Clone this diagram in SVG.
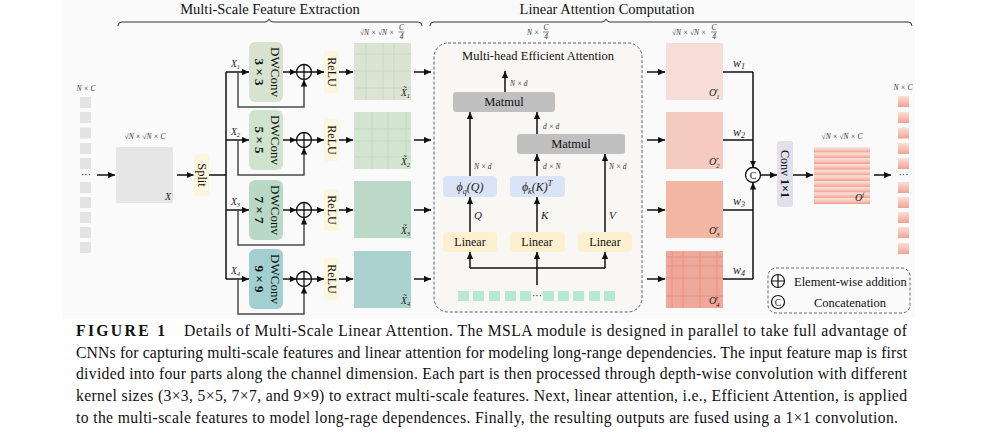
<svg xmlns="http://www.w3.org/2000/svg" width="991" height="435" viewBox="0 0 991 435">
<defs>
<style>
.t{font-family:'Liberation Serif','Times New Roman',serif;fill:#111}
.m{font-family:'Liberation Serif','DejaVu Serif',serif;font-style:italic;fill:#222}
.s{font-size:7.5px;fill:#333}
.ln{stroke:#111;stroke-width:1.5;fill:none}
.lg{stroke:#4a4a4a;stroke-width:1.5;fill:none}
.br{stroke:#333;stroke-width:1;fill:none}
.cap{font-family:'Liberation Serif','Times New Roman',serif;font-size:15.7px;fill:#111}
.grid{stroke-width:1;fill:none}
</style>
<marker id="ah" viewBox="0 0 10 10" refX="10" refY="5" markerWidth="7" markerHeight="7" markerUnits="userSpaceOnUse" orient="auto"><path d="M0,0.5 L10,5 L0,9.5 z" fill="#111"/></marker>
<linearGradient id="pk" x1="0" y1="0" x2="0" y2="1"><stop offset="0" stop-color="#fae0d8"/><stop offset="1" stop-color="#f0a391"/></linearGradient>
<linearGradient id="st" x1="0" y1="0" x2="0" y2="1"><stop offset="0" stop-color="#fbe4dc"/><stop offset="0.55" stop-color="#f6c3b6"/><stop offset="1" stop-color="#ee9b88"/></linearGradient>
</defs>

<rect x="62" y="0" width="853" height="319" fill="#fafafa"/>

<!-- titles and braces -->
<g id="titles">
<text class="t" x="270" y="14" font-size="14.5" text-anchor="middle">Multi-Scale Feature Extraction</text>
<text class="t" x="607" y="14" font-size="14.5" text-anchor="middle">Linear Attention Computation</text>
<path class="br" d="M118,26 Q118,22 122,22 L265,22 Q268,22 269,19 Q270,22 273,22 L418,22 Q422,22 422,26"/>
<path class="br" d="M430,26 Q430,22 434,22 L602,22 Q605,22 606,19 Q607,22 610,22 L908,22 Q912,22 912,26"/>
</g>

<!-- input tokens -->
<g id="input">
<text class="m s" x="86" y="91" text-anchor="middle">N × C</text>
<g fill="#e3e3e3">
<rect x="80" y="97" width="11" height="11"/><rect x="80" y="112" width="11" height="11"/><rect x="80" y="127.5" width="11" height="11"/><rect x="80" y="143" width="11" height="11"/><rect x="80" y="158" width="11" height="11"/>
<rect x="80" y="182" width="11" height="11"/><rect x="80" y="197" width="11" height="11"/><rect x="80" y="212" width="11" height="11"/><rect x="80" y="227" width="11" height="11"/><rect x="80" y="242" width="11" height="11"/>
</g>
<text class="t" x="86" y="178" font-size="10" text-anchor="middle">···</text>
</g>

<g id="x-map">
<text class="m s" x="145" y="139" text-anchor="middle">√N × √N × C</text>
<rect x="116" y="147" width="57" height="56" fill="#e6e6e6"/>
<text class="m" x="165" y="200" font-size="10">X</text>
</g>

<g id="split">
<rect x="194" y="154" width="15" height="42" rx="3" fill="#fbf6dc"/>
<text class="t" font-size="12.5" text-anchor="middle" transform="translate(201.5,175) rotate(90)" y="4">Split</text>
</g>

<!-- DWConv -->
<g id="dwconv1"><rect x="249" y="42" width="34" height="60" rx="6" fill="#d7e3cf"/>
<g transform="translate(266,72) rotate(90)" text-anchor="middle" font-size="13"><text class="t" y="-4.5">DWConv</text><text class="t" y="11.5" font-weight="bold">3 × 3</text></g></g>
<g id="dwconv2"><rect x="249" y="110" width="34" height="60" rx="6" fill="#d0e4cd"/>
<g transform="translate(266,140) rotate(90)" text-anchor="middle" font-size="13"><text class="t" y="-4.5">DWConv</text><text class="t" y="11.5" font-weight="bold">5 × 5</text></g></g>
<g id="dwconv3"><rect x="249" y="180" width="34" height="60" rx="6" fill="#b9d9c7"/>
<g transform="translate(266,210) rotate(90)" text-anchor="middle" font-size="13"><text class="t" y="-4.5">DWConv</text><text class="t" y="11.5" font-weight="bold">7 × 7</text></g></g>
<g id="dwconv4"><rect x="249" y="249" width="34" height="60" rx="6" fill="#a2d0d1"/>
<g transform="translate(266,279) rotate(90)" text-anchor="middle" font-size="13"><text class="t" y="-4.5">DWConv</text><text class="t" y="11.5" font-weight="bold">9 × 9</text></g></g>

<!-- add circles -->
<g id="add1"><circle cx="304" cy="72" r="7.5" fill="#fff" stroke="#111" stroke-width="1.3"/><path d="M296.5,72 H311.5 M304,64.5 V79.5" stroke="#111" stroke-width="1.3"/></g>
<g id="add2"><circle cx="304" cy="140" r="7.5" fill="#fff" stroke="#111" stroke-width="1.3"/><path d="M296.5,140 H311.5 M304,132.5 V147.5" stroke="#111" stroke-width="1.3"/></g>
<g id="add3"><circle cx="304" cy="210" r="7.5" fill="#fff" stroke="#111" stroke-width="1.3"/><path d="M296.5,210 H311.5 M304,202.5 V217.5" stroke="#111" stroke-width="1.3"/></g>
<g id="add4"><circle cx="304" cy="279" r="7.5" fill="#fff" stroke="#111" stroke-width="1.3"/><path d="M296.5,279 H311.5 M304,271.5 V286.5" stroke="#111" stroke-width="1.3"/></g>

<!-- ReLU -->
<g id="relu1"><rect x="324" y="51" width="15" height="42" rx="3" fill="#fbf6dc"/><text class="t" font-size="12" text-anchor="middle" transform="translate(331.5,72) rotate(90)" y="4">ReLU</text></g>
<g id="relu2"><rect x="324" y="119" width="15" height="42" rx="3" fill="#fbf6dc"/><text class="t" font-size="12" text-anchor="middle" transform="translate(331.5,140) rotate(90)" y="4">ReLU</text></g>
<g id="relu3"><rect x="324" y="189" width="15" height="42" rx="3" fill="#fbf6dc"/><text class="t" font-size="12" text-anchor="middle" transform="translate(331.5,210) rotate(90)" y="4">ReLU</text></g>
<g id="relu4"><rect x="324" y="258" width="15" height="42" rx="3" fill="#fbf6dc"/><text class="t" font-size="12" text-anchor="middle" transform="translate(331.5,279) rotate(90)" y="4">ReLU</text></g>

<!-- multi-scale features -->
<g id="xt-label">
<text class="m s" x="360" y="35">√N × √N ×</text>
<text class="m s" x="401.5" y="30" text-anchor="middle">C</text>
<line x1="398.5" y1="32" x2="404.5" y2="32" stroke="#333" stroke-width="0.6"/>
<text class="m s" x="401.5" y="39" text-anchor="middle">4</text>
</g>
<g id="xt1"><rect x="354" y="43" width="57" height="57" fill="#dbe4d3"/>
<path class="grid" stroke="#c7d8c1" d="M366,43 V100 M383,43 V100 M394,43 V100 M354,54 H411 M354,71 H411 M354,88 H411"/>
<text class="m" x="401" y="96" font-size="9.5">X̃<tspan font-size="6.5" dy="2">1</tspan></text></g>
<g id="xt2"><rect x="354" y="112" width="57" height="57" fill="#d3e4d0"/>
<path class="grid" stroke="#bfd9bd" d="M372,112 V169 M388,112 V169 M406,112 V169 M354,129 H411 M354,141 H411 M354,157 H411"/>
<text class="m" x="401" y="165" font-size="9.5">X̃<tspan font-size="6.5" dy="2">2</tspan></text></g>
<g id="xt3"><rect x="354" y="181" width="57" height="57" fill="#bad9c8"/>
<text class="m" x="401" y="234" font-size="9.5">X̃<tspan font-size="6.5" dy="2">3</tspan></text></g>
<g id="xt4"><rect x="354" y="251" width="57" height="57" fill="#aad3d0"/>
<text class="m" x="401" y="304" font-size="9.5">X̃<tspan font-size="6.5" dy="2">4</tspan></text></g>

<!-- attention block -->
<g id="attention">
<text class="m s" x="527" y="35">N ×</text>
<text class="m s" x="546" y="30" text-anchor="middle">C</text>
<line x1="543" y1="32" x2="549" y2="32" stroke="#333" stroke-width="0.6"/>
<text class="m s" x="546" y="39" text-anchor="middle">4</text>
<rect x="434" y="43" width="208" height="269" rx="14" fill="#f8f7f4" stroke="#56607a" stroke-width="1" stroke-dasharray="3,2"/>
<text class="t" x="538" y="60" font-size="12.5" text-anchor="middle">Multi-head Efficient Attention</text>
</g>
<g id="matmul1"><rect x="453" y="92" width="102" height="20" rx="3" fill="#c0c0c0"/><text class="t" x="504" y="106" font-size="12.5" text-anchor="middle">Matmul</text></g>
<g id="matmul2"><rect x="517" y="134" width="108" height="20" rx="3" fill="#c0c0c0"/><text class="t" x="571" y="148" font-size="12.5" text-anchor="middle">Matmul</text></g>
<g id="phi-q"><rect x="443" y="176" width="54" height="21" rx="4" fill="#dbe3f6"/><text class="m" x="470" y="191" font-size="12" text-anchor="middle">ϕ<tspan font-size="8" dy="2.5">q</tspan><tspan dy="-2.5">(Q)</tspan></text></g>
<g id="phi-k"><rect x="510" y="176" width="55" height="21" rx="4" fill="#dbe3f6"/><text class="m" x="537" y="191" font-size="12" text-anchor="middle">ϕ<tspan font-size="8" dy="2.5">k</tspan><tspan dy="-2.5">(K)</tspan><tspan font-size="8" dy="-5">T</tspan></text></g>
<g id="linear-q"><rect x="443" y="232" width="54" height="20" rx="4" fill="#fdf0d0"/><text class="t" x="470" y="246" font-size="12" text-anchor="middle">Linear</text></g>
<g id="linear-k"><rect x="510" y="232" width="55" height="20" rx="4" fill="#fdf0d0"/><text class="t" x="537" y="246" font-size="12" text-anchor="middle">Linear</text></g>
<g id="linear-v"><rect x="578" y="232" width="54" height="20" rx="4" fill="#fdf0d0"/><text class="t" x="605" y="246" font-size="12" text-anchor="middle">Linear</text></g>
<g id="tokens" fill="#b6e8d2">
<rect x="458" y="291" width="11" height="10"/><rect x="473" y="291" width="11" height="10"/><rect x="489" y="291" width="11" height="10"/><rect x="505" y="291" width="11" height="10"/><rect x="520" y="291" width="11" height="10"/>
<rect x="543" y="291" width="11" height="10"/><rect x="558" y="291" width="11" height="10"/><rect x="573" y="291" width="11" height="10"/><rect x="589" y="291" width="11" height="10"/><rect x="604" y="291" width="11" height="10"/>
<text class="t" x="537" y="299" font-size="10" text-anchor="middle" fill="#111">···</text>
</g>

<!-- attention outputs -->
<g id="o-label">
<text class="m s" x="672" y="35">√N × √N ×</text>
<text class="m s" x="714" y="30" text-anchor="middle">C</text>
<line x1="711" y1="32" x2="717" y2="32" stroke="#333" stroke-width="0.6"/>
<text class="m s" x="714" y="39" text-anchor="middle">4</text>
</g>
<g id="o1"><rect x="666" y="43" width="57" height="57" fill="#f7ddd8"/><text class="m" x="709" y="96" font-size="10">O<tspan font-size="6.5" dy="2.5">1</tspan><tspan font-size="6.5" dx="-3.5" dy="-7">r</tspan></text></g>
<g id="o2"><rect x="666" y="112" width="57" height="57" fill="#f5cbc1"/><text class="m" x="709" y="165" font-size="10">O<tspan font-size="6.5" dy="2.5">2</tspan><tspan font-size="6.5" dx="-3.5" dy="-7">r</tspan></text></g>
<g id="o3"><rect x="666" y="181" width="57" height="57" fill="#f3b6a4"/><text class="m" x="709" y="234" font-size="10">O<tspan font-size="6.5" dy="2.5">3</tspan><tspan font-size="6.5" dx="-3.5" dy="-7">r</tspan></text></g>
<g id="o4"><rect x="666" y="251" width="57" height="57" fill="#eea99c"/>
<path class="grid" stroke="#e9907f" d="M672,251 V308 M683,251 V308 M700,251 V308 M717,251 V308 M666,257 H723 M666,266 H723 M666,278 H723 M666,296 H723"/>
<text class="m" x="709" y="304" font-size="10">O<tspan font-size="6.5" dy="2.5">4</tspan><tspan font-size="6.5" dx="-3.5" dy="-7">r</tspan></text></g>

<g id="weights" class="m" font-size="12">
<text x="733" y="67">w<tspan font-size="8" dy="2">1</tspan></text>
<text x="733" y="136">w<tspan font-size="8" dy="2">2</tspan></text>
<text x="733" y="205">w<tspan font-size="8" dy="2">3</tspan></text>
<text x="733" y="274">w<tspan font-size="8" dy="2">4</tspan></text>
</g>

<g id="concat"><circle cx="753" cy="175" r="7.5" fill="#fff" stroke="#111" stroke-width="1.3"/><text class="t" x="753" y="178.5" font-size="10" text-anchor="middle">C</text></g>

<g id="conv"><rect x="777" y="141" width="16" height="66" rx="3" fill="#e2e0ec"/>
<text class="t" font-size="12" text-anchor="middle" transform="translate(785,174) rotate(90)" y="4">Conv <tspan font-weight="bold">1×1</tspan></text></g>

<g id="of">
<text class="m s" x="842" y="139" text-anchor="middle">√N × √N × C</text>
<g fill="url(#st)">
<rect x="814" y="147" width="56" height="5.7"/><rect x="814" y="152.7" width="56" height="5.7"/><rect x="814" y="158.4" width="56" height="5.7"/><rect x="814" y="164.1" width="56" height="5.7"/><rect x="814" y="169.8" width="56" height="5.7"/>
<rect x="814" y="175.5" width="56" height="5.7"/><rect x="814" y="181.2" width="56" height="5.7"/><rect x="814" y="186.9" width="56" height="5.7"/><rect x="814" y="192.6" width="56" height="5.7"/><rect x="814" y="198.3" width="56" height="5.7"/>
</g>
<text class="m" x="855" y="201" font-size="10">O<tspan font-size="6.5" dy="-4">f</tspan></text>
</g>

<g id="output">
<text class="m s" x="903" y="90" text-anchor="middle">N × C</text>
<g fill="url(#pk)">
<rect x="898" y="96" width="11" height="11"/><rect x="898" y="112" width="11" height="11"/><rect x="898" y="127.5" width="11" height="11"/><rect x="898" y="143" width="11" height="11"/><rect x="898" y="158" width="11" height="11"/>
<rect x="898" y="182" width="11" height="11"/><rect x="898" y="197" width="11" height="11"/><rect x="898" y="212" width="11" height="11"/><rect x="898" y="227" width="11" height="11"/><rect x="898" y="243" width="11" height="11"/>
</g>
<text class="t" x="903.5" y="178" font-size="10" text-anchor="middle">···</text>
</g>

<g id="legend">
<rect x="768" y="268" width="142" height="45" rx="8" fill="none" stroke="#666" stroke-width="1" stroke-dasharray="3,2"/>
<circle cx="778" cy="281" r="6.5" fill="#fff" stroke="#111" stroke-width="1.2"/><path d="M771.5,281 H784.5 M778,274.5 V287.5" stroke="#111" stroke-width="1.2"/>
<text class="t" x="794" y="285.5" font-size="12.5">Element-wise addition</text>
<circle cx="778" cy="302" r="6.5" fill="#fff" stroke="#111" stroke-width="1.2"/><text class="t" x="778" y="305.5" font-size="9.5" text-anchor="middle">C</text>
<text class="t" x="850" y="306.5" font-size="12.5" text-anchor="middle">Concatenation</text>
</g>

<!-- connectors -->
<g id="connectors">
<path class="ln" marker-end="url(#ah)" d="M97,175 H115"/>
<path class="ln" marker-end="url(#ah)" d="M177,175 H193.5"/>
<path class="ln" d="M209,175 H226 M226,72 V279"/>
<path class="ln" marker-end="url(#ah)" d="M226,72 H249"/>
<path class="ln" marker-end="url(#ah)" d="M226,140 H249"/>
<path class="ln" marker-end="url(#ah)" d="M226,210 H249"/>
<path class="ln" marker-end="url(#ah)" d="M226,279 H249"/>
<path class="lg" marker-end="url(#ah)" d="M238,72 V107 H304 V79.5"/>
<path class="lg" marker-end="url(#ah)" d="M238,140 V175 H304 V147.5"/>
<path class="lg" marker-end="url(#ah)" d="M238,210 V245 H304 V217.5"/>
<path class="lg" marker-end="url(#ah)" d="M238,279 V314 H304 V286.5"/>
<path class="ln" marker-end="url(#ah)" d="M283,72 H296.5"/>
<path class="ln" marker-end="url(#ah)" d="M283,140 H296.5"/>
<path class="ln" marker-end="url(#ah)" d="M283,210 H296.5"/>
<path class="ln" marker-end="url(#ah)" d="M283,279 H296.5"/>
<path class="ln" marker-end="url(#ah)" d="M311.5,72 H324"/>
<path class="ln" marker-end="url(#ah)" d="M311.5,140 H324"/>
<path class="ln" marker-end="url(#ah)" d="M311.5,210 H324"/>
<path class="ln" marker-end="url(#ah)" d="M311.5,279 H324"/>
<path class="ln" marker-end="url(#ah)" d="M339,72 H353"/>
<path class="ln" marker-end="url(#ah)" d="M339,140 H353"/>
<path class="ln" marker-end="url(#ah)" d="M339,210 H353"/>
<path class="ln" marker-end="url(#ah)" d="M339,279 H353"/>
<path class="ln" marker-end="url(#ah)" d="M414,72 H431"/>
<path class="ln" marker-end="url(#ah)" d="M414,140 H431"/>
<path class="ln" marker-end="url(#ah)" d="M414,210 H431"/>
<path class="ln" marker-end="url(#ah)" d="M414,279 H431"/>
<!-- attention internals -->
<path class="ln" marker-end="url(#ah)" d="M505,92 V71"/>
<path class="ln" marker-end="url(#ah)" d="M537,134 V112"/>
<path class="ln" marker-end="url(#ah)" d="M470,176 V112"/>
<path class="ln" marker-end="url(#ah)" d="M537,176 V154"/>
<path class="ln" marker-end="url(#ah)" d="M605,232 V154"/>
<path class="ln" marker-end="url(#ah)" d="M470,232 V197"/>
<path class="ln" marker-end="url(#ah)" d="M537,232 V197"/>
<path class="ln" d="M470,268 H605 M537,285 V268"/>
<path class="ln" marker-end="url(#ah)" d="M470,268 V252"/>
<path class="ln" marker-end="url(#ah)" d="M537,268 V252"/>
<path class="ln" marker-end="url(#ah)" d="M605,268 V252"/>
<!-- to outputs -->
<path class="ln" marker-end="url(#ah)" d="M647,72 H665"/>
<path class="ln" marker-end="url(#ah)" d="M647,140 H665"/>
<path class="ln" marker-end="url(#ah)" d="M647,210 H665"/>
<path class="ln" marker-end="url(#ah)" d="M647,279 H665"/>
<path class="ln" d="M723,72 H753 M723,140 H753 M723,210 H753 M723,279 H753"/>
<path class="ln" marker-end="url(#ah)" d="M753,72 V167.5"/>
<path class="ln" marker-end="url(#ah)" d="M753,279 V182.5"/>
<path class="ln" marker-end="url(#ah)" d="M760.5,175 H777"/>
<path class="ln" marker-end="url(#ah)" d="M793,175 H813"/>
<path class="ln" marker-end="url(#ah)" d="M874,175 H891"/>
</g>

<g id="edge-labels">
<text class="m s" x="510" y="86">N × d</text>
<text class="m s" x="543" y="129">d × d</text>
<text class="m s" x="474" y="169">N × d</text>
<text class="m s" x="543" y="169">d × N</text>
<text class="m s" x="609" y="169">N × d</text>
<text class="m" x="474" y="219" font-size="11">Q</text>
<text class="m" x="541" y="219" font-size="11">K</text>
<text class="m" x="609" y="219" font-size="11">V</text>
<text class="m" x="231" y="67" font-size="9.5">X<tspan font-size="6.5" dy="2">1</tspan></text>
<text class="m" x="231" y="135" font-size="9.5">X<tspan font-size="6.5" dy="2">2</tspan></text>
<text class="m" x="231" y="205" font-size="9.5">X<tspan font-size="6.5" dy="2">3</tspan></text>
<text class="m" x="231" y="274" font-size="9.5">X<tspan font-size="6.5" dy="2">4</tspan></text>
</g>

<!-- caption -->
<g id="caption">
<text class="cap" x="76" y="336" font-weight="bold" textLength="89" lengthAdjust="spacing">FIGURE 1</text>
<text class="cap" x="184" y="336" textLength="723" lengthAdjust="spacing">Details of Multi-Scale Linear Attention. The MSLA module is designed in parallel to take full advantage of</text>
<text class="cap" x="76" y="357.5" textLength="831" lengthAdjust="spacing">CNNs for capturing multi-scale features and linear attention for modeling long-range dependencies. The input feature map is first</text>
<text class="cap" x="76" y="379" textLength="831" lengthAdjust="spacing">divided into four parts along the channel dimension. Each part is then processed through depth-wise convolution with different</text>
<text class="cap" x="76" y="401" textLength="831" lengthAdjust="spacing">kernel sizes (3×3, 5×5, 7×7, and 9×9) to extract multi-scale features. Next, linear attention, i.e., Efficient Attention, is applied</text>
<text class="cap" x="76" y="422.5" textLength="822" lengthAdjust="spacing">to the multi-scale features to model long-rage dependences. Finally, the resulting outputs are fused using a 1×1 convolution.</text>
</g>
</svg>
